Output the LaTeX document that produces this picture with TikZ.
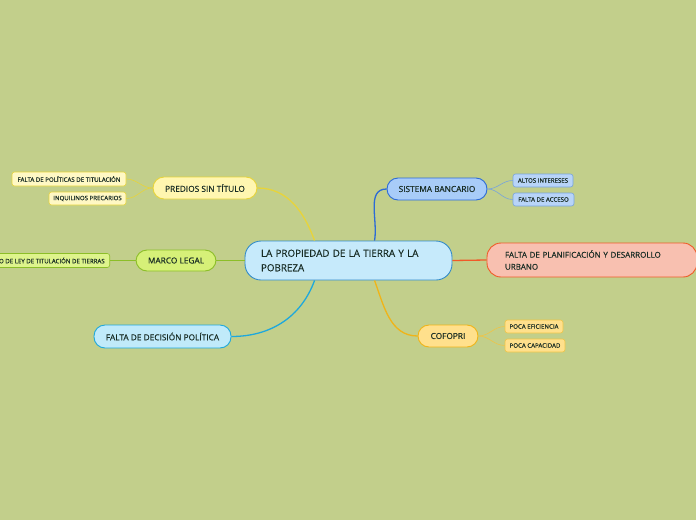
\documentclass[tikz,border=0pt]{standalone}
\usepackage{fontspec}
\setmainfont{Open Sans}[FakeBold=0.35]
\usetikzlibrary{calc}
\definecolor{bg}{RGB}{194,207,139}
\definecolor{txt}{RGB}{24,44,36}
\definecolor{cfill}{RGB}{198,234,251}
\definecolor{cdraw}{RGB}{52,140,200}
\definecolor{yfill}{RGB}{255,246,176}
\definecolor{ydraw}{RGB}{232,212,58}
\definecolor{ycfill}{RGB}{255,248,196}
\definecolor{gfill}{RGB}{214,240,120}
\definecolor{gdraw}{RGB}{140,190,40}
\definecolor{gcfill}{RGB}{222,244,140}
\definecolor{cyfill}{RGB}{192,234,250}
\definecolor{cydraw}{RGB}{30,168,220}
\definecolor{bfill}{RGB}{168,204,248}
\definecolor{bdraw}{RGB}{44,107,214}
\definecolor{bcfill}{RGB}{184,212,248}
\definecolor{bcdraw}{RGB}{120,164,220}
\definecolor{rfill}{RGB}{248,192,176}
\definecolor{rdraw}{RGB}{240,90,40}
\definecolor{ofill}{RGB}{255,224,140}
\definecolor{odraw}{RGB}{240,180,24}
\definecolor{ocdraw}{RGB}{240,196,70}
\tikzset{
  box/.style={rectangle, draw, line width=0.9pt, text=txt, inner sep=0pt, align=center},
  main/.style={box, rounded corners=11pt, font=\fontsize{8.3}{9}\selectfont},
  leaf/.style={box, line width=0.6pt, rounded corners=2.5pt, font=\fontsize{6.1}{7}\selectfont},
  conn/.style={line width=1.3pt},
  sub/.style={line width=0.6pt}
}
\begin{document}
\begin{tikzpicture}[x=1pt,y=-1pt]
\useasboundingbox[fill=bg] (0,0) rectangle (696,520);
% central
\node[box, rounded corners=16pt, fill=cfill, draw=cdraw, minimum width=207pt, minimum height=39pt,
  text width=175pt, align=left, font=\fontsize{9.8}{14.5}\selectfont] (c) at (348.5,260.5)
  {LA PROPIEDAD DE LA TIERRA Y LA\\POBREZA};
% main topics
\node[main, fill=yfill, draw=ydraw, minimum width=104pt, minimum height=22pt] (pred) at (205,188) {PREDIOS SIN TÍTULO};
\node[main, fill=gfill, draw=gdraw, minimum width=80pt, minimum height=21pt] (marco) at (176,260.5) {MARCO LEGAL};
\node[main, fill=cyfill, draw=cydraw, minimum width=137pt, minimum height=23pt] (dec) at (162.5,336.5) {FALTA DE DECISIÓN POLÍTICA};
\node[main, fill=bfill, draw=bdraw, minimum width=100pt, minimum height=22pt] (banc) at (437,189) {SISTEMA BANCARIO};
\node[box, rounded corners=14pt, fill=rfill, draw=rdraw, minimum width=210pt, minimum height=34pt,
  text width=174pt, align=left, font=\fontsize{8}{12}\selectfont] (plan) at (592,260)
  {FALTA DE PLANIFICACIÓN Y DESARROLLO\\URBANO};
\node[main, fill=ofill, draw=odraw, minimum width=60pt, minimum height=22pt] (cofo) at (448,336) {COFOPRI};
% leaves
\node[leaf, fill=ycfill, draw=ydraw, minimum width=114pt, minimum height=14pt] (pol) at (69,179) {FALTA DE POLÍTICAS DE TITULACIÓN};
\node[leaf, fill=ycfill, draw=ydraw, minimum width=77pt, minimum height=13pt] (inq) at (87.5,198.5) {INQUILINOS PRECARIOS};
\node[leaf, fill=gcfill, draw=gdraw, minimum height=14pt, inner xsep=5pt, anchor=east] (ley) at (110,260.5) {PROYECTO DE LEY DE TITULACIÓN DE TIERRAS};
\node[leaf, fill=bcfill, draw=bcdraw, minimum width=60pt, minimum height=13pt] (alt) at (543,180.5) {ALTOS INTERESES};
\node[leaf, fill=bcfill, draw=bcdraw, minimum width=61pt, minimum height=13pt] (acc) at (543.5,199.5) {FALTA DE ACCESO};
\node[leaf, fill=ofill, draw=ocdraw, minimum width=58pt, minimum height=13pt] (efi) at (534,326.5) {POCA EFICIENCIA};
\node[leaf, fill=ofill, draw=ocdraw, minimum width=60pt, minimum height=13pt] (cap) at (535,345.5) {POCA CAPACIDAD};
% attachment points on central node
\coordinate (cNW) at ($(c.north west)+(70,0)$);
\coordinate (cNE) at ($(c.north west)+(130,0)$);
\coordinate (cSW) at ($(c.south west)+(70,0)$);
\coordinate (cSE) at ($(c.south west)+(130,0)$);
% main connectors
\draw[conn, draw=ydraw] (pred.east) to[out=0,in=110] (cNW);
\draw[conn, draw=gdraw] (marco.east) -- (c.west);
\draw[conn, draw=cydraw] (dec.east) to[out=0,in=-110] (cSW);
\draw[conn, draw=bdraw] (banc.west) to[out=180,in=80] (cNE);
\draw[conn, draw=rdraw] (c.east) -- (plan.west);
\draw[conn, draw=odraw] (cofo.west) to[out=180,in=-70] (cSE);
% sub connectors
\draw[sub, draw=ydraw] (pred.west) to[out=180,in=0] (pol.east);
\draw[sub, draw=ydraw] (pred.west) to[out=180,in=0] (inq.east);
\draw[sub, draw=gdraw] (marco.west) -- (ley.east);
\draw[sub, draw=bcdraw] (banc.east) to[out=0,in=180] (alt.west);
\draw[sub, draw=bcdraw] (banc.east) to[out=0,in=180] (acc.west);
\draw[sub, draw=ocdraw] (cofo.east) to[out=0,in=180] (efi.west);
\draw[sub, draw=ocdraw] (cofo.east) to[out=0,in=180] (cap.west);
\end{tikzpicture}
\end{document}
